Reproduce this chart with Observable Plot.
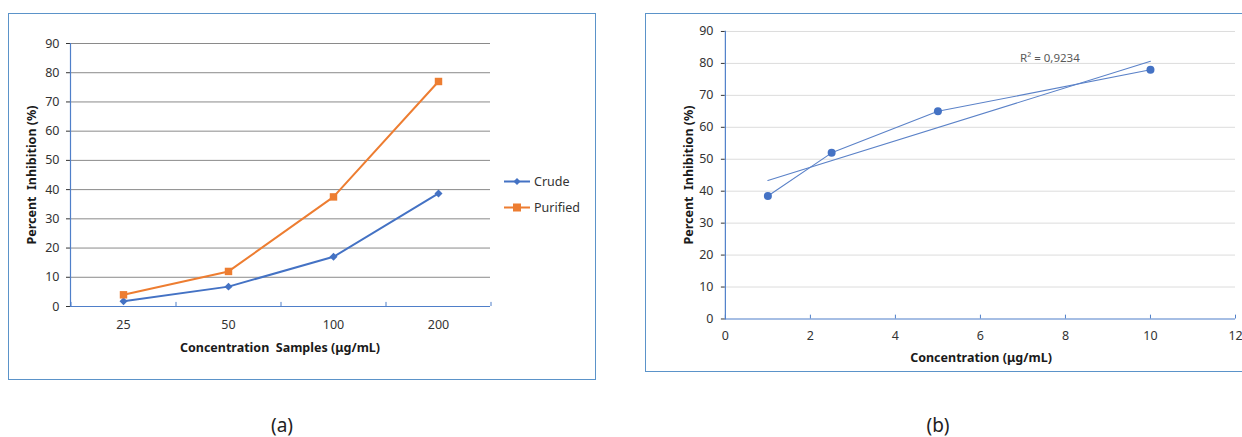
<!DOCTYPE html>
<html><head><meta charset="utf-8">
<script src="https://cdn.jsdelivr.net/npm/d3@7"></script>
<script src="https://cdn.jsdelivr.net/npm/@observablehq/plot@0.6"></script>
<style>
body{margin:0;background:#fff;font-family:"Noto Sans",sans-serif;}
#root{position:relative;width:1242px;height:437px;overflow:hidden;background:#fff;}
.box{position:absolute;border:1.5px solid #5b93c9;box-sizing:border-box;}
.abs{position:absolute;white-space:pre;}
.xt{font-weight:bold;font-size:12.5px;color:#1a1a1a;transform:translate(-50%,-50%);}
.yt{font-weight:bold;font-size:12.5px;color:#1a1a1a;transform:translate(-50%,-50%) rotate(-90deg);}
.plotwrap{position:absolute;}
.leg{font-size:12.5px;color:#333;display:flex;align-items:center;transform:translateY(-50%);}
.cap{font-size:19px;color:#222;transform:translate(-50%,-50%);}
</style></head><body><div id="root"></div>
<script>
// ---- data ----
const concentrationsA = ["25", "50", "100", "200"];
const crude = [1.8, 6.8, 17, 38.7];
const purified = [4, 12, 37.5, 77];
const seriesNames = ["Crude", "Purified"];
const seriesColors = ["#4472c4", "#ed7d31"];
const concentrationsB = [1, 2.5, 5, 10];
const inhibitionB = [38.5, 52, 65, 78];
const yTicks = [0, 10, 20, 30, 40, 50, 60, 70, 80, 90];
const xTicksB = [0, 2, 4, 6, 8, 10, 12];
const r2Label = "R² = 0,9234";
const xTitleA = "Concentration  Samples (μg/mL)";
const xTitleB = "Concentration (μg/mL)";
const yTitle = "Percent  Inhibition (%)";

const root = document.getElementById("root");
function add(html, cls, left, top) {
  const d = document.createElement("div");
  d.className = cls; d.style.left = left + "px"; d.style.top = top + "px";
  d.innerHTML = html; root.appendChild(d); return d;
}
function box(l, t, r, b) {
  const d = document.createElement("div");
  d.className = "box";
  Object.assign(d.style, {left: l + "px", top: t + "px", width: (r - l) + "px", height: (b - t) + "px"});
  root.appendChild(d);
}
box(8, 13, 596, 380);
box(645, 13, 1243, 372);

const font = {fontFamily: '"Noto Sans", sans-serif', fontSize: "12.5px", color: "#333", background: "transparent", overflow: "visible"};

// ---- panel (a) ----
const dataA = concentrationsA.flatMap((c, i) => [
  {c, v: crude[i], s: seriesNames[0]},
  {c, v: purified[i], s: seriesNames[1]}
]);
const plotA = Plot.plot({
  width: 588, height: 367,
  marginLeft: 62, marginRight: 106, marginTop: 30, marginBottom: 74,
  style: font,
  x: {type: "point", domain: concentrationsA, padding: 0.5, label: null, tickSize: 0, tickPadding: 14},
  y: {domain: [0, 90], ticks: yTicks, label: null, tickSize: 4, tickPadding: 7},
  color: {domain: seriesNames, range: seriesColors},
  marks: [
    Plot.ruleY(yTicks.filter(d => d > 0), {stroke: "#8a8a8a", strokeWidth: 1}),
    Plot.ruleY([0], {stroke: "#4f7fc9", strokeWidth: 1.2}),
    Plot.frame({anchor: "left", stroke: "#4f7fc9", strokeWidth: 1.2}),
    Plot.ruleX(concentrationsA, {x: d => d, dx: 52.5, y1: 0, y2: 1.4, stroke: "#4f7fc9"}),
    Plot.ruleX(concentrationsA.slice(0, 1), {x: d => d, dx: -52.5, y1: 0, y2: 1.4, stroke: "#4f7fc9"}),
    Plot.line(dataA, {x: "c", y: "v", stroke: "s", strokeWidth: 2}),
    Plot.dot(dataA.filter(d => d.s === seriesNames[0]), {x: "c", y: "v", symbol: "diamond2", r: 3.6, fill: seriesColors[0], stroke: "none"}),
    Plot.dot(dataA.filter(d => d.s === seriesNames[1]), {x: "c", y: "v", symbol: "square", r: 4.2, fill: seriesColors[1], stroke: "none"})
  ]
});
const wa = document.createElement("div"); wa.className = "plotwrap";
wa.style.left = "8px"; wa.style.top = "13px"; wa.appendChild(plotA); root.appendChild(wa);

add(xTitleA, "abs xt", 280, 347);
add(yTitle, "abs yt", 31, 175);

// legend
function swatch(color, sym) {
  const m = sym === "diamond"
    ? `<path d="M13,1.5 L16.5,5 L13,8.5 L9.5,5 Z" fill="${color}"/>`
    : `<rect x="9" y="1" width="8" height="8" fill="${color}"/>`;
  return `<svg width="28" height="10" style="margin-right:2px"><line x1="0" y1="5" x2="26" y2="5" stroke="${color}" stroke-width="2"/>${m}</svg>`;
}
add(swatch(seriesColors[0], "diamond") + seriesNames[0], "abs leg", 504, 181);
add(swatch(seriesColors[1], "square") + seriesNames[1], "abs leg", 504, 207);

// ---- panel (b) ----
const dataB = concentrationsB.map((x, i) => ({x, y: inhibitionB[i]}));
const plotB = Plot.plot({
  width: 598, height: 359,
  marginLeft: 80, marginRight: 7, marginTop: 18, marginBottom: 53,
  style: font,
  x: {domain: [0, 12], ticks: xTicksB, label: null, tickSize: 0, tickPadding: 12},
  y: {domain: [0, 90], ticks: yTicks, label: null, tickSize: 4, tickPadding: 8},
  marks: [
    Plot.ruleY(yTicks.filter(d => d > 0), {stroke: "#dcdcdc", strokeWidth: 1}),
    Plot.ruleY([0], {stroke: "#4f7fc9", strokeWidth: 1.2}),
    Plot.frame({anchor: "left", stroke: "#4f7fc9", strokeWidth: 1.2}),
    Plot.ruleX(xTicksB, {x: d => d, y1: 0, y2: 1.2, stroke: "#4f7fc9"}),
    Plot.linearRegressionY(dataB, {x: "x", y: "y", ci: 0, stroke: "#5b82c8", strokeWidth: 1.1}),
    Plot.line(dataB, {x: "x", y: "y", stroke: "#5b82c8", strokeWidth: 1.1}),
    Plot.dot(dataB, {x: "x", y: "y", r: 4, fill: "#4472c4", stroke: "none"})
  ]
});
const wb = document.createElement("div"); wb.className = "plotwrap";
wb.style.left = "645px"; wb.style.top = "13px"; wb.appendChild(plotB); root.appendChild(wb);

add(xTitleB, "abs xt", 981, 357);
add(yTitle, "abs yt", 688, 175);
const r2 = add(r2Label, "abs", 1020, 50);
r2.style.fontSize = "11.5px"; r2.style.color = "#595959";

// captions
add("(a)", "abs cap", 282, 425);
add("(b)", "abs cap", 938, 425);
</script></body></html>
